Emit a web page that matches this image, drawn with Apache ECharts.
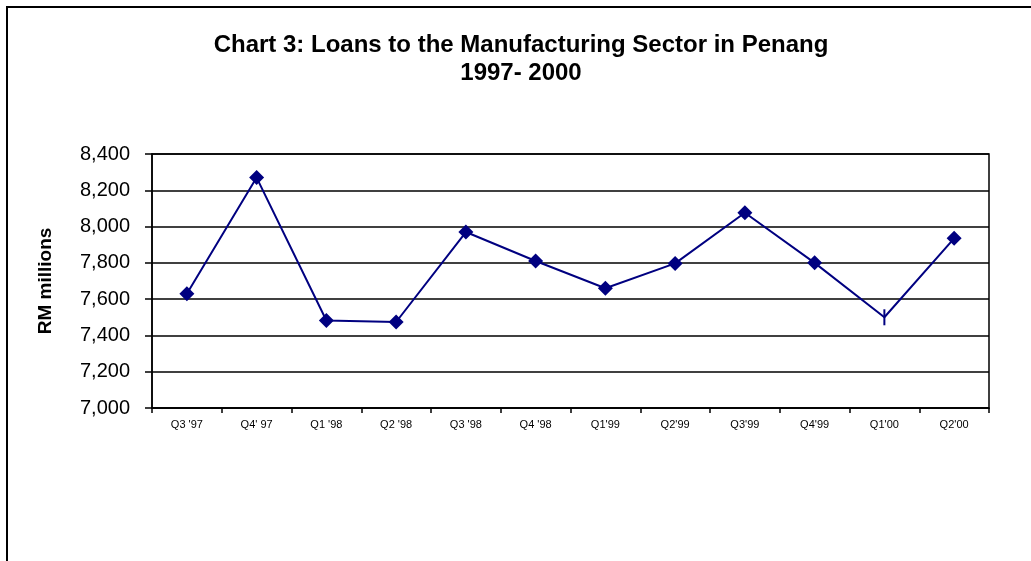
<!DOCTYPE html>
<html>
<head>
<meta charset="utf-8">
<title>Chart 3</title>
<script src="https://cdn.jsdelivr.net/npm/echarts@6/dist/echarts.min.js"></script>
<style>
  html, body { margin: 0; padding: 0; background: #fff; }
  #chart { width: 1031px; height: 561px; }
</style>
</head>
<body>
<div id="chart"></div>
<script>
// quarters on the x axis
const quarters = ["Q3 '97", "Q4' 97", "Q1 '98", "Q2 '98", "Q3 '98", "Q4 '98",
  "Q1'99", "Q2'99", "Q3'99", "Q4'99", "Q1'00", "Q2'00"];
// loans, RM millions
const loans = [7630, 8270, 7482, 7474, 7970, 7810, 7660, 7797, 8076, 7800, 7500, 7935];
// point that is drawn with a bar marker instead of a diamond
const oddPoint = 10;

let chart = echarts.init(document.getElementById('chart'));
const font = 'Liberation Sans, Arial, sans-serif';

let option = {
  animation: false,
  textStyle: { fontFamily: font },
  title: {
    text: 'Chart 3: Loans to the Manufacturing Sector in Penang\n1997- 2000',
    left: 516,
    top: 26,
    textAlign: 'center',
    textStyle: { fontSize: 24, fontWeight: 'bold', color: '#000', lineHeight: 28, fontFamily: font }
  },
  graphic: [
    {
      type: 'polyline',
      shape: { points: [[7, 561], [7, 7], [1031, 7]] },
      style: { stroke: '#000', lineWidth: 2, fill: null }
    }
  ],
  grid: {
    left: 152, right: 42, top: 154, bottom: 153,
    show: true, borderColor: '#000', borderWidth: 1.5
  },
  xAxis: {
    type: 'category',
    data: quarters,
    boundaryGap: true,
    axisLine: { lineStyle: { color: '#000', width: 1.5 } },
    axisTick: { show: true, length: 5, lineStyle: { color: '#000', width: 1.5 } },
    axisLabel: { color: '#000', fontSize: 11, margin: 11, interval: 0 }
  },
  yAxis: {
    type: 'value',
    min: 7000, max: 8400, interval: 200,
    name: 'RM millions',
    nameLocation: 'middle',
    nameGap: 97,
    nameTextStyle: { fontSize: 19, fontWeight: 'bold', color: '#000' },
    axisLine: { show: true, lineStyle: { color: '#000', width: 1.5 } },
    axisTick: { show: true, length: 7, lineStyle: { color: '#000', width: 1.5 } },
    axisLabel: {
      color: '#000', fontSize: 20, margin: 22,
      formatter: v => v.toLocaleString('en-US')
    },
    splitLine: { lineStyle: { color: '#000', width: 1.5 } }
  },
  series: [
    {
      type: 'line',
      data: loans.map((v, i) => i === oddPoint
        ? { value: v, symbol: 'rect', symbolSize: [2, 16] }
        : v),
      symbol: 'diamond',
      symbolSize: 15,
      lineStyle: { color: '#000080', width: 2 },
      itemStyle: { color: '#000080' }
    }
  ]
};

chart.setOption(option);
</script>
</body>
</html>
